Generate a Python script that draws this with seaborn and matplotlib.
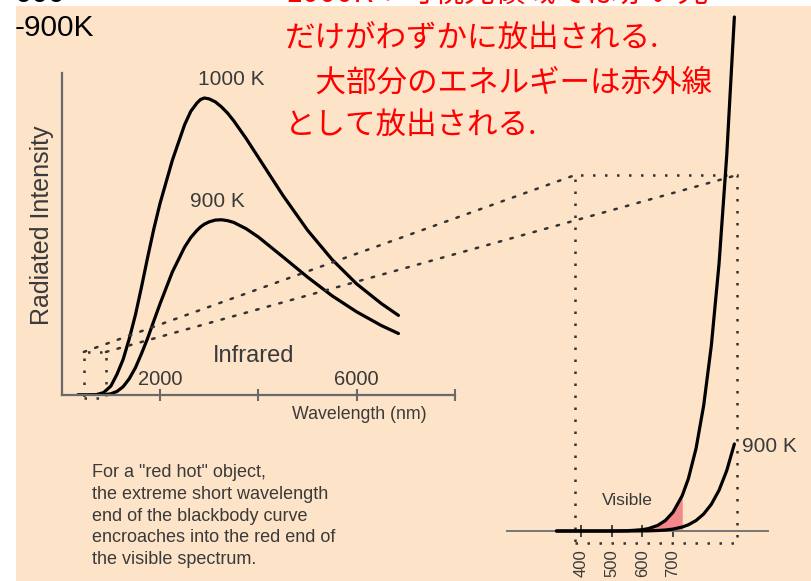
import matplotlib
matplotlib.use("Agg")
import matplotlib.pyplot as plt
import seaborn as sns
from matplotlib.patches import Rectangle, ConnectionPatch

# ---- broad spectrum (wavelength in nm, intensity relative to the 1000 K peak) ----
wl_ir = [330, 500, 700, 850, 1000, 1125, 1250, 1375, 1500, 1625, 1750, 1875, 2000,
         2250, 2500, 2625, 2750, 2825, 2900, 3000, 3125, 3250, 3375, 3500, 3750, 4000,
         4500, 5000, 5500, 6000, 6500, 6850]
i1000_ir = [0, 0, 0.001, 0.008, 0.03, 0.07, 0.12, 0.19, 0.27, 0.365, 0.465, 0.56, 0.645,
            0.79, 0.91, 0.955, 0.983, 0.995, 1.0, 0.997, 0.987, 0.97, 0.949, 0.923, 0.864,
            0.80, 0.672, 0.555, 0.456, 0.374, 0.308, 0.268]
i900_ir = [0, 0, 0, 0.001, 0.004, 0.012, 0.028, 0.055, 0.092, 0.14, 0.192, 0.25, 0.307,
           0.414, 0.498, 0.530, 0.554, 0.566, 0.575, 0.583, 0.589, 0.590, 0.587, 0.581,
           0.560, 0.532, 0.465, 0.397, 0.334, 0.280, 0.234, 0.207]
ir_ticks = [2000, 4000, 6000, 8000]
ir_ticklabels = ["2000", "", "6000", ""]

# ---- short-wavelength end, magnified (intensity in units of 1e-4 of the 1000 K peak) ----
wl_vis = [320, 400, 500, 550, 600, 620, 650, 675, 700, 730, 750, 775, 800, 825, 850, 875, 900]
i1000_vis = [0, 0, 0, 0.025, 0.144, 0.265, 0.611, 1.148, 2.05, 3.864, 5.71, 9.005, 13.725,
             20.29, 29.19, 40.98, 56.17]
i900_vis = [0, 0, 0, 0, 0.010, 0.020, 0.052, 0.107, 0.209, 0.433, 0.678, 1.144, 1.859,
            2.922, 4.45, 6.587, 9.51]
vis_ticks = [400, 500, 600, 700]
red_band = (620, 730)

note_lines = ['For a "red hot" object,',
              'the extreme short wavelength',
              'end of the blackbody curve',
              'encroaches into the red end of',
              'the visible spectrum.']
jp_lines = ["1000K：可視光領域では赤い光",
            "だけがわずかに放出される.",
            "　大部分のエネルギーは赤外線",
            "として放出される."]

PEACH = "#FDE3C8"
INK = "#3a3a3a"
AXC = "#6a6a6a"

sns.set_theme(style="white")
plt.rcParams["font.family"] = ["Liberation Sans", "DejaVu Sans"]

W, H = 811, 581
fig = plt.figure(figsize=(W / 100, H / 100), dpi=100)
fig.patch.set_facecolor("white")


def fx(px):
    return px / W


def fy(py):
    return 1 - py / H


fig.add_artist(Rectangle((fx(16), 0), 1 - fx(16), fy(5.5), transform=fig.transFigure,
                         facecolor=PEACH, edgecolor="none", zorder=-5))

# ---------------- broad spectrum panel ----------------
ax1 = fig.add_axes([fx(61.7), fy(395), (455 - 61.7) / W, (395 - 73) / H])
ax1.set_facecolor("none")
sns.lineplot(x=wl_ir, y=i1000_ir, ax=ax1, color="black", lw=2.3, estimator=None, sort=False)
sns.lineplot(x=wl_ir, y=i900_ir, ax=ax1, color="black", lw=2.3, estimator=None, sort=False)
for l in ax1.lines:
    l.set_solid_joinstyle("round")
ax1.set_xlim(0, 8000)
ax1.set_ylim(0, 322 / 297)
for s in ["top", "right"]:
    ax1.spines[s].set_visible(False)
for s in ["left", "bottom"]:
    ax1.spines[s].set_color(AXC)
    ax1.spines[s].set_linewidth(1.6)
ax1.set_xticks(ir_ticks)
ax1.set_xticklabels([])
ax1.set_yticks([])
ax1.tick_params(axis="x", direction="inout", length=8, width=1.5, color=AXC, bottom=True)
ax1.set_xlabel("")
ax1.set_ylabel("")
for t, lab in zip(ir_ticks, ir_ticklabels):
    if lab:
        ax1.text(t, 0.034, lab, ha="center", va="baseline", fontsize=14.5, color=INK)
ax1.text(3453, 1.044, "1000 K", ha="center", va="baseline", fontsize=15, color=INK)
ax1.text(3158, 0.634, "900 K", ha="center", va="baseline", fontsize=15, color=INK)
ax1.text(3901, 0.112, "Infrared", ha="center", va="baseline", fontsize=17, color=INK)
ax1.text(6057, -0.082, "Wavelength (nm)", ha="center", va="baseline", fontsize=12.8,
         color=INK, clip_on=False)
ax1.text(-0.05, 0.528, "Radiated Intensity", rotation=90, ha="center", va="center",
         fontsize=18, color=INK, transform=ax1.transAxes)

# ---------------- magnified visible-end panel ----------------
ax2 = fig.add_axes([fx(507.4), fy(531), (768.1 - 507.4) / W, (531 - 10) / H])
ax2.set_facecolor("none")
band = [(w, v) for w, v in zip(wl_vis, i1000_vis) if red_band[0] <= w <= red_band[1]]
ax2.fill_between([b[0] for b in band], 0, [b[1] for b in band], color="#F2888A",
                 linewidth=0, zorder=1)
sns.lineplot(x=wl_vis, y=i1000_vis, ax=ax2, color="black", lw=2.3, estimator=None,
             sort=False, zorder=3)
sns.lineplot(x=wl_vis, y=i900_vis, ax=ax2, color="black", lw=2.3, estimator=None,
             sort=False, zorder=3)
for l in ax2.lines:
    l.set_clip_on(False)
    l.set_solid_joinstyle("round")
ax2.set_xlim(160, 1010)
ax2.set_ylim(0, 521 / 9.151)
for s in ["top", "right", "left"]:
    ax2.spines[s].set_visible(False)
ax2.spines["bottom"].set_color("#777777")
ax2.spines["bottom"].set_linewidth(1.4)
ax2.set_yticks([])
ax2.set_xticks(vis_ticks)
ax2.set_xticklabels([str(v) for v in vis_ticks], rotation=90, fontsize=12, color=INK)
ax2.tick_params(axis="x", direction="inout", length=8, width=1.4, color="#444444",
                pad=9, bottom=True)
ax2.set_xlabel("")
ax2.set_ylabel("")
ax2.text(551.6, 2.84, "Visible", ha="center", va="baseline", fontsize=12.5, color=INK)
ax2.text(925, 8.67, "900 K", ha="left", va="baseline", fontsize=15, color=INK,
         clip_on=False)

# ---------------- zoom guides ----------------
dot = dict(color="#333333", lw=1.8, linestyle=(0, (1.0, 3.8)))
small = (450, -0.01, 450, 0.155)
big = (380, -1.31, 528, 40.2)
ax1.add_patch(Rectangle(small[:2], small[2], small[3], fill=False, clip_on=False,
                        zorder=0.5, **dot))
ax2.add_patch(Rectangle(big[:2], big[2], big[3], fill=False, clip_on=False,
                        zorder=0.5, **dot))
corners = [((small[0], small[1] + small[3]), (big[0], big[1] + big[3])),
           ((small[0] + small[2], small[1] + small[3]), (big[0] + big[2], big[1] + big[3])),
           ((small[0], small[1]), (big[0], big[1])),
           ((small[0] + small[2], small[1]), (big[0] + big[2], big[1]))]
for a, b in corners:
    fig.add_artist(ConnectionPatch(xyA=a, coordsA="data", axesA=ax1,
                                   xyB=b, coordsB="data", axesB=ax2, zorder=0.5, **dot))

# ---------------- captions ----------------
for i, line in enumerate(note_lines):
    fig.text(fx(92), fy(477.3 + 21.7 * i), line, ha="left", va="baseline",
             fontsize=13, color=INK)

jp_y = [-6, 38, 83.5, 125]
for line, y in zip(jp_lines, jp_y):
    fig.text(fx(285), fy(y), line, ha="left", va="center", fontsize=22,
             color="#FF0000", family=["Noto Sans CJK JP", "DejaVu Sans"])

fig.text(fx(16), fy(2), "900", ha="left", va="baseline", fontsize=21.5, color="black")
fig.text(fx(15), fy(28), "-900K", ha="left", va="center", fontsize=21.5, color="black")

fig.savefig("out.png", dpi=100, facecolor=fig.get_facecolor())
